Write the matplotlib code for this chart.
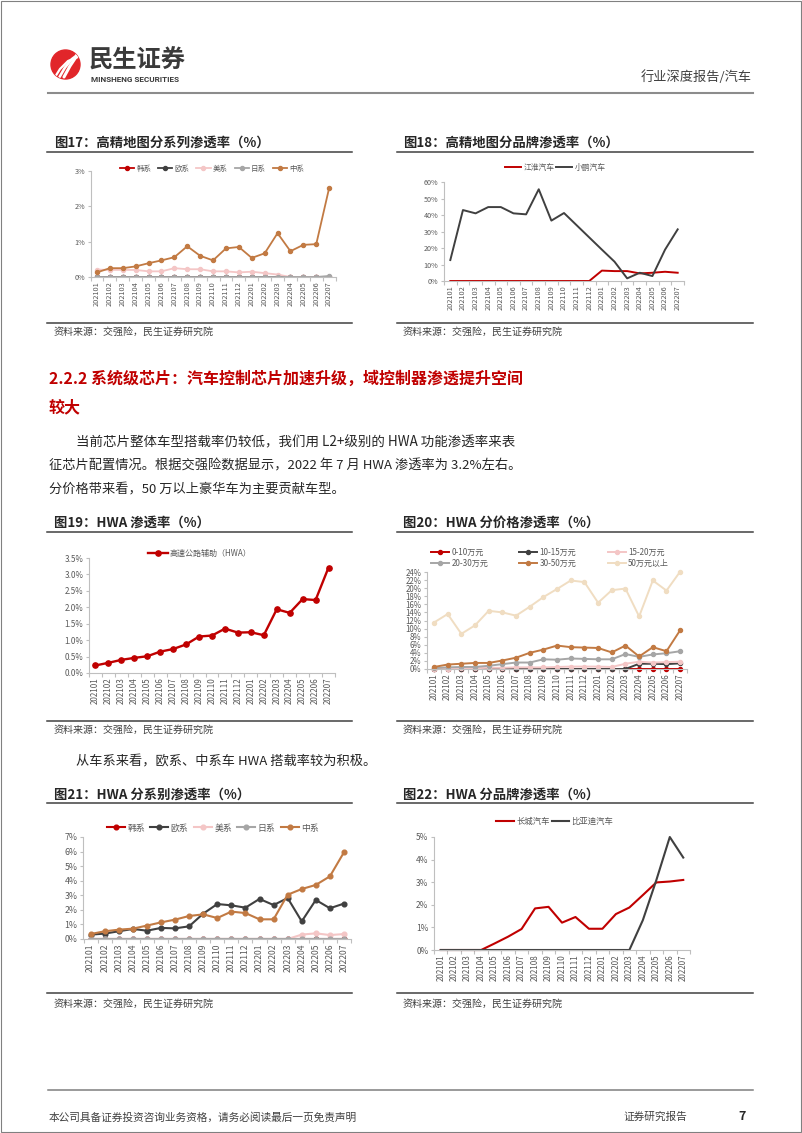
import numpy as np
import matplotlib.pyplot as plt
from matplotlib.patches import Circle, Rectangle

plt.rcParams["font.family"] = ["Noto Sans CJK SC", "DejaVu Sans"]
plt.rcParams["axes.unicode_minus"] = False

W, H = 802, 1133

# 数据
months = ["202101", "202102", "202103", "202104", "202105", "202106", "202107",
          "202108", "202109", "202110", "202111", "202112", "202201", "202202",
          "202203", "202204", "202205", "202206", "202207"]

# 图17 高精地图分系别渗透率 (%)
hmap_kr = [0, 0, 0, 0, 0, 0, 0, 0, 0, 0, 0, 0, 0, 0, 0, 0, 0, 0, 0]
hmap_eu = [0, 0, 0, 0, 0, 0, 0, 0, 0, 0, 0, 0, 0, 0, 0, 0, 0, 0, 0]
hmap_us = [0.21, 0.20, 0.20, 0.20, 0.16, 0.16, 0.25, 0.22, 0.22, 0.16, 0.16,
           0.13, 0.15, 0.11, 0.07, 0, 0, 0, 0]
hmap_jp = [0, 0, 0, 0, 0, 0, 0, 0, 0, 0, 0, 0, 0, 0, 0, 0, 0, 0, 0.03]
hmap_cn = [0.13, 0.25, 0.25, 0.30, 0.39, 0.47, 0.56, 0.87, 0.60, 0.47, 0.81,
           0.85, 0.54, 0.67, 1.24, 0.73, 0.91, 0.93, 2.52]

# 图18 高精地图分品牌渗透率 (%)
brand_jac = [0, 0, 0, 0, 0, 0, 0, 0, 0, 0, 0, 0, 6.3, 6.0, 6.0, 4.6, 5.0, 5.6, 5.0]
brand_xpeng = [12.7, 43.0, 41.0, 44.8, 44.8, 41.0, 40.4, 55.6, 36.6, 41.2, 33.8,
               26.4, 19.0, 11.7, 1.6, 5.0, 3.0, 19.0, 31.3]

# 图19 HWA 渗透率 (%)
hwa = [0.23, 0.31, 0.40, 0.46, 0.51, 0.65, 0.73, 0.87, 1.11, 1.14, 1.35, 1.23,
       1.24, 1.15, 1.94, 1.83, 2.25, 2.22, 3.21]

# 图20 HWA 分价格渗透率 (%)
price_0_10 = [0, 0, 0, 0, 0, 0, 0, 0, 0, 0, 0, 0, 0, 0, 0, 0, 0, 0, 0]
price_10_15 = [0, 0, 0, 0, 0, 0, 0, 0, 0, 0, 0, 0, 0, 0, 0, 1.3, 1.3, 1.2, 1.4]
price_15_20 = [0.1, 0.1, 0.2, 0.2, 0.3, 0.3, 0.4, 0.4, 0.4, 0.5, 0.6, 0.6, 0.6,
               0.5, 1.3, 1.8, 1.6, 1.7, 1.8]
price_20_30 = [0.2, 0.4, 0.5, 0.5, 0.8, 1.2, 1.6, 1.6, 2.4, 2.3, 2.6, 2.5, 2.4,
               2.4, 3.7, 3.0, 3.6, 3.9, 4.4]
price_30_50 = [0.5, 1.1, 1.3, 1.5, 1.5, 2.1, 2.8, 4.0, 4.8, 5.8, 5.4, 5.3, 5.2,
               4.1, 5.8, 3.1, 5.4, 4.4, 9.6]
price_50up = [11.5, 13.6, 8.7, 10.8, 14.4, 14.0, 13.2, 15.4, 17.8, 19.8, 21.9,
              21.5, 16.4, 19.5, 19.9, 13.0, 21.9, 19.4, 24.1]

# 图21 HWA 分系别渗透率 (%)
sys_kr = [0, 0, 0, 0, 0, 0, 0, 0, 0, 0, 0, 0, 0, 0, 0, 0, 0, 0, 0]
sys_eu = [0.30, 0.37, 0.53, 0.69, 0.57, 0.76, 0.73, 0.87, 1.74, 2.40, 2.31, 2.15,
          2.75, 2.33, 2.81, 1.21, 2.68, 2.11, 2.43]
sys_us = [0, 0, 0, 0, 0, 0, 0, 0, 0, 0, 0, 0, 0, 0, 0, 0.30, 0.39, 0.27, 0.34]
sys_jp = [0, 0, 0, 0, 0, 0, 0, 0, 0, 0, 0, 0, 0, 0, 0, 0, 0, 0, 0]
sys_cn = [0.34, 0.53, 0.64, 0.71, 0.92, 1.14, 1.33, 1.58, 1.69, 1.44, 1.88, 1.78,
          1.35, 1.35, 3.04, 3.43, 3.71, 4.30, 5.95]

# 图22 HWA 分品牌渗透率 (%)
brand_gwm = [0, 0, 0, 0, 0.29, 0.59, 0.93, 1.84, 1.91, 1.21, 1.46, 0.94, 0.94,
             1.59, 1.88, 2.43, 2.99, 3.03, 3.10]
brand_byd = [0, 0, 0, 0, 0, 0, 0, 0, 0, 0, 0, 0, 0, 0, 0, 1.32, 3.09, 5.0, 4.09]

# colors
RED = "#C00000"
DARK = "#404040"
PINK = "#F4C6C6"
GRAY = "#A6A6A6"
BROWN = "#C27A43"
BEIGE = "#F0DDC2"
TICK = "#595959"
SPINE = "#BFBFBF"
TEXT = "#404040"

fig = plt.figure(figsize=(W / 100, H / 100), dpi=100)
page = fig.add_axes([0, 0, 1, 1])
page.set_xlim(0, W)
page.set_ylim(H, 0)
page.axis("off")


def px_axes(x0, y0, x1, y1):
    return fig.add_axes([x0 / W, 1 - y1 / H, (x1 - x0) / W, (y1 - y0) / H])


def style_axes(ax, ylim, yticks, ylabels, xlim, xfs=5.5, yfs=5.5):
    n = len(months)
    ax.set_facecolor("none")
    ax.spines["top"].set_visible(False)
    ax.spines["right"].set_visible(False)
    for s in ["left", "bottom"]:
        ax.spines[s].set_color(SPINE)
        ax.spines[s].set_linewidth(0.8)
    ax.set_xlim(*xlim)
    ax.set_ylim(*ylim)
    ax.set_xticks(np.arange(n))
    ax.set_xticklabels(months, rotation=90, fontsize=xfs, color=TICK)
    ax.set_xticks(np.arange(n + 1) - 0.5, minor=True)
    ax.tick_params(axis="x", which="major", length=0, pad=3)
    ax.tick_params(axis="x", which="minor", length=3, color=SPINE, width=0.8)
    ax.set_yticks(yticks)
    ax.set_yticklabels(ylabels, fontsize=yfs, color=TICK)
    ax.tick_params(axis="y", length=2, color=SPINE, width=0.8, pad=2)


def legend_at(ax, handles, labels, cx, cy, ncol, fs, **kw):
    opts = dict(handlelength=2.2, handletextpad=0.3, columnspacing=0.8,
                borderpad=0, labelspacing=0.3)
    opts.update(kw)
    ax.legend(handles, labels, loc="center", bbox_to_anchor=(cx / W, 1 - cy / H),
              bbox_transform=fig.transFigure, ncol=ncol, frameon=False,
              fontsize=fs, labelcolor=TICK, numpoints=1, **opts)


def block(x0, x1, tx, title, ty, ly, sly, sy):
    page.text(tx, ty, title, fontsize=9.6, weight="bold", color="#262626", va="center")
    page.plot([x0, x1], [ly, ly], color=TEXT, lw=1.1)
    page.plot([x0, x1], [sly, sly], color=TEXT, lw=1.1)
    page.text(tx, sy, "资料来源：交强险，民生证券研究院", fontsize=7.2, color=TEXT, va="center")


x_idx = np.arange(len(months))

# page frame
page.add_patch(Rectangle((0.5, 0.5), 800, 1131, fill=False, ec="#808080", lw=0.8))

# header
logo = Circle((65.5, 64.5), 14.5, color="#E1262A")
page.add_patch(logo)
for k in range(3):
    xs = np.array([55 + 4.5 * k, 60 + 5 * k, 68 + 4 * k, 78])
    ys = np.array([77, 69 - 1.5 * k, 61 - 2 * k, 57 - 2.5 * k])
    ln, = page.plot(xs, ys, color="white", lw=1.6 + 0.3 * k, solid_capstyle="round")
    ln.set_clip_path(logo)
page.text(89, 61, "民生证券", fontsize=17.5, weight="bold", color="#3A3A3A", va="center")
page.text(91, 80, "MINSHENG SECURITIES", fontsize=5.9, weight="bold", color="#3A3A3A",
          va="center", family="Roboto")
page.text(752, 77, "行业深度报告/汽车", fontsize=9.5, color=TEXT, va="center", ha="right")
page.plot([48, 753], [93, 93], color="#8C8C8C", lw=1.5)

# footer
page.plot([48, 753], [1090, 1090], color="#7F7F7F", lw=1.1)
page.text(49, 1117, "本公司具备证券投资咨询业务资格，请务必阅读最后一页免责声明",
          fontsize=7.7, color=TEXT, va="center")
page.text(624, 1117, "证券研究报告", fontsize=7.7, color=TEXT, va="center")
page.text(742, 1117, "7", fontsize=9, weight="bold", color="#262626", va="center", ha="center")

# section text
page.text(49, 379, "2.2.2 系统级芯片：汽车控制芯片加速升级，域控制器渗透提升空间",
          fontsize=11.5, weight="bold", color=RED, va="center")
page.text(49, 407, "较大", fontsize=11.5, weight="bold", color=RED, va="center")
page.text(76, 442, "当前芯片整体车型搭载率仍较低，我们用 L2+级别的 HWA 功能渗透率来表",
          fontsize=9.7, color="#262626", va="center")
page.text(49, 466, "征芯片配置情况。根据交强险数据显示，2022 年 7 月 HWA 渗透率为 3.2%左右。",
          fontsize=9.5, color="#262626", va="center")
page.text(49, 490, "分价格带来看，50 万以上豪华车为主要贡献车型。",
          fontsize=9.5, color="#262626", va="center")
page.text(76, 762, "从车系来看，欧系、中系车 HWA 搭载率较为积极。",
          fontsize=9.5, color="#262626", va="center")

# ---- 图17
block(47, 352, 54, "图17：高精地图分系列渗透率（%）", 143, 152, 323, 332)
ax = px_axes(90.5, 171, 335.6, 277)
style_axes(ax, (0, 3), [0, 1, 2, 3], ["0%", "1%", "2%", "3%"], (-0.5, 18.5), xfs=5.3, yfs=5.2)
lines = []
for vals, c, lab in [(hmap_kr, RED, "韩系"), (hmap_eu, DARK, "欧系"), (hmap_us, PINK, "美系"),
                     (hmap_jp, GRAY, "日系"), (hmap_cn, BROWN, "中系")]:
    ln, = ax.plot(x_idx, vals, color=c, lw=1.3, marker="o", ms=2.9, label=lab)
    lines.append(ln)
legend_at(ax, lines, [l.get_label() for l in lines], 212, 169, 5, 5.4,
          handlelength=1.9, columnspacing=0.9)

# ---- 图18
block(397, 753, 403, "图18：高精地图分品牌渗透率（%）", 143, 152, 323, 332)
ax = px_axes(444, 182, 684, 281)
style_axes(ax, (0, 60), [0, 10, 20, 30, 40, 50, 60],
           ["0%", "10%", "20%", "30%", "40%", "50%", "60%"], (-0.26, 18.39), xfs=5.3, yfs=5.2)
l1, = ax.plot(x_idx, brand_jac, color=RED, lw=1.4, label="江淮汽车")
l2, = ax.plot(x_idx, brand_xpeng, color=DARK, lw=1.4, label="小鹏汽车")
legend_at(ax, [l1, l2], ["江淮汽车", "小鹏汽车"], 555, 168, 2, 5.6,
          handlelength=2.1, columnspacing=0.2)

# ---- 图19
block(47, 352, 54, "图19：HWA 渗透率（%）", 523, 532, 721, 730)
ax = px_axes(89, 558, 335, 673)
style_axes(ax, (0, 3.5), [0, 0.5, 1, 1.5, 2, 2.5, 3, 3.5],
           ["0.0%", "0.5%", "1.0%", "1.5%", "2.0%", "2.5%", "3.0%", "3.5%"],
           (-0.33, 18.48), xfs=5.8, yfs=5.8)
l1, = ax.plot(x_idx, hwa, color=RED, lw=1.7, marker="o", ms=3.8, label="高速公路辅助（HWA）")
legend_at(ax, [l1], ["高速公路辅助（HWA）"], 200, 553, 1, 5.8, handlelength=2.4)

# ---- 图20
block(397, 753, 403, "图20：HWA 分价格渗透率（%）", 523, 532, 721, 730)
ax = px_axes(427, 572, 687, 669)
style_axes(ax, (0, 24), list(range(0, 25, 2)), ["%d%%" % v for v in range(0, 25, 2)],
           (-0.51, 18.36), xfs=5.8, yfs=5.7)
price_lines = []
for vals, c, lab in [(price_0_10, RED, "0-10万元"), (price_10_15, DARK, "10-15万元"),
                     (price_15_20, PINK, "15-20万元"), (price_20_30, GRAY, "20-30万元"),
                     (price_30_50, BROWN, "30-50万元"), (price_50up, BEIGE, "50万元以上")]:
    ln, = ax.plot(x_idx, vals, color=c, lw=1.4, marker="o", ms=2.9, label=lab, clip_on=False)
    price_lines.append(ln)
order = [0, 3, 1, 4, 2, 5]
legend_at(ax, [price_lines[i] for i in order], [price_lines[i].get_label() for i in order],
          550, 558, 3, 5.8, handlelength=2.2, columnspacing=3.9, labelspacing=0.25)

# ---- 图21
block(47, 352, 54, "图21：HWA 分系别渗透率（%）", 795, 803, 993, 1004)
ax = px_axes(83, 837, 351, 939)
style_axes(ax, (0, 7), list(range(8)), ["%d%%" % v for v in range(8)],
           (-0.54, 18.35), xfs=6.2, yfs=6.3)
lines = []
for vals, c, lab in [(sys_kr, RED, "韩系"), (sys_eu, DARK, "欧系"), (sys_us, PINK, "美系"),
                     (sys_jp, GRAY, "日系"), (sys_cn, BROWN, "中系")]:
    ln, = ax.plot(x_idx, vals, color=c, lw=1.5, marker="o", ms=3.4, label=lab)
    lines.append(ln)
legend_at(ax, lines, [l.get_label() for l in lines], 213, 828, 5, 6.4,
          handlelength=2.0, columnspacing=0.6)

# ---- 图22
block(397, 753, 403, "图22：HWA 分品牌渗透率（%）", 795, 803, 993, 1004)
ax = px_axes(434, 837, 690, 950)
style_axes(ax, (0, 5), list(range(6)), ["%d%%" % v for v in range(6)],
           (-0.44, 18.5), xfs=5.8, yfs=6.0)
l1, = ax.plot(x_idx, brand_gwm, color=RED, lw=1.5, label="长城汽车", clip_on=False)
l2, = ax.plot(x_idx, brand_byd, color=DARK, lw=1.5, label="比亚迪汽车", clip_on=False)
legend_at(ax, [l1, l2], ["长城汽车", "比亚迪汽车"], 555, 821, 2, 6.0,
          handlelength=2.1, columnspacing=0.2)

fig.savefig("out.png", dpi=100)
